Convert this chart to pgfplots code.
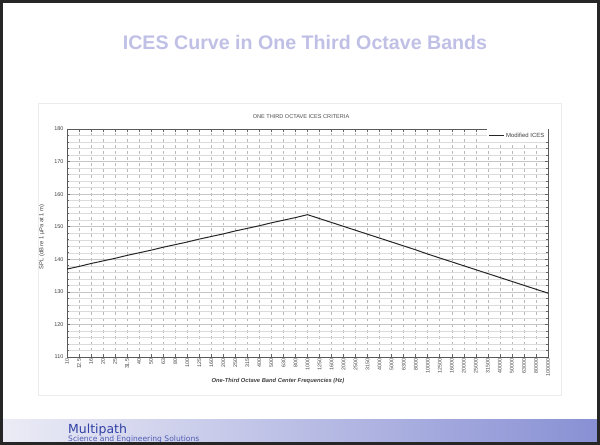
\documentclass[border=0pt]{standalone}
\usepackage{pgfplots}
\pgfplotsset{compat=1.18}
\usepackage{fontspec}
\setmainfont{Liberation Sans}
\newfontfamily\barfont{DejaVu Sans}
\definecolor{titlecol}{RGB}{192,192,230}
\definecolor{barL}{RGB}{236,236,246}
\definecolor{barR}{RGB}{136,144,212}
\definecolor{mpblue}{RGB}{48,64,165}
\pgfplotstableread{
idx spl
0 137.0
1 137.8
2 138.7
3 139.5
4 140.3
5 141.2
6 142.0
7 142.8
8 143.7
9 144.5
10 145.3
11 146.2
12 147.0
13 147.8
14 148.7
15 149.5
16 150.3
17 151.2
18 152.0
19 152.8
20 153.7
21 152.5
22 151.3
23 150.1
24 148.9
25 147.7
26 146.5
27 145.3
28 144.1
29 142.9
30 141.6
31 140.4
32 139.2
33 138.0
34 136.8
35 135.6
36 134.4
37 133.2
38 132.0
39 130.8
40 129.6
}\ices
\begin{document}
\begin{tikzpicture}
\path[use as bounding box] (0bp,0bp) rectangle (600bp,445bp);
\fill[white] (0bp,0bp) rectangle (600bp,445bp);
% bottom bar
\shade[left color=barL, right color=barR] (0bp,0bp) rectangle (600bp,25bp);
\node[anchor=base west, text=mpblue, inner sep=0pt] at (68bp,11.5bp) {\barfont\fontsize{12.5}{14}\selectfont Multipath};
\node[anchor=base west, text=mpblue!85, inner sep=0pt] at (68bp,3.5bp) {\barfont\fontsize{7.6}{9}\selectfont Science and Engineering Solutions};
% slide title
\node[text=titlecol, inner sep=0pt] at (305bp,403bp) {\fontsize{19.7}{22}\selectfont\bfseries ICES Curve in One Third Octave Bands};
% chart frame
\draw[gray!15, line width=0.5bp] (38bp,50bp) rectangle (561bp,342bp);
% chart title
\node[text=black!70, inner sep=0pt] at (301bp,328bp) {\fontsize{5.6}{6}\selectfont ONE THIRD OCTAVE ICES CRITERIA};
\begin{axis}[
  at={(67bp,88bp)}, anchor=south west,
  width=481bp, height=228bp, scale only axis,
  xmin=0, xmax=40, ymin=110, ymax=180,
  xtick={0,...,40},
  xticklabels={10,12.5,16,20,25,31.5,40,50,63,80,100,125,160,200,250,315,400,500,630,800,1000,1250,1600,2000,2500,3150,4000,5000,6300,8000,10000,12500,16000,20000,25000,31500,40000,50000,63000,80000,100000},
  x tick label style={rotate=90, anchor=east, font=\fontsize{5.3}{6}\selectfont, text=black!75, inner sep=1.5bp},
  ytick={110,120,...,180},
  minor y tick num=4,
  y tick label style={font=\fontsize{5.5}{6}\selectfont, text=black!75},
  /pgf/number format/assume math mode=true,
  grid=both,
  major grid style={gray!45, line width=0.6bp},
  minor grid style={gray!28, line width=0.45bp},
  x grid style={gray!55, dashed, line width=0.6bp},
  axis line style={black!65, line width=0.9bp},
  tick style={black!60, line width=0.6bp},
  major tick length=3bp, minor tick length=2bp,
  legend style={at={(1,1)}, anchor=north east, draw=none, fill=white,
    font=\fontsize{6}{7}\selectfont, inner sep=1.5bp, text=black!75},
  legend cell align=left,
  legend image code/.code={\draw[#1] (0bp,0bp) -- (15bp,0bp);},
]
\addplot[black!85, line width=1bp] table[x=idx, y=spl] {\ices};
\addlegendentry{Modified ICES}
\end{axis}
% axis labels
\node[text=black!75, inner sep=0pt] at (278bp,64bp) {\fontsize{5.8}{7}\selectfont\bfseries\itshape One-Third Octave Band Center Frequencies (Hz)};
\node[text=black!75, inner sep=0pt, rotate=90] at (42bp,208bp) {\fontsize{5.8}{7}\selectfont SPL (dB re 1 μPa at 1 m)};
% slide border
\draw[black!85, line width=3bp] (1.5bp,1.5bp) rectangle (598.5bp,443.5bp);
\end{tikzpicture}
\end{document}
